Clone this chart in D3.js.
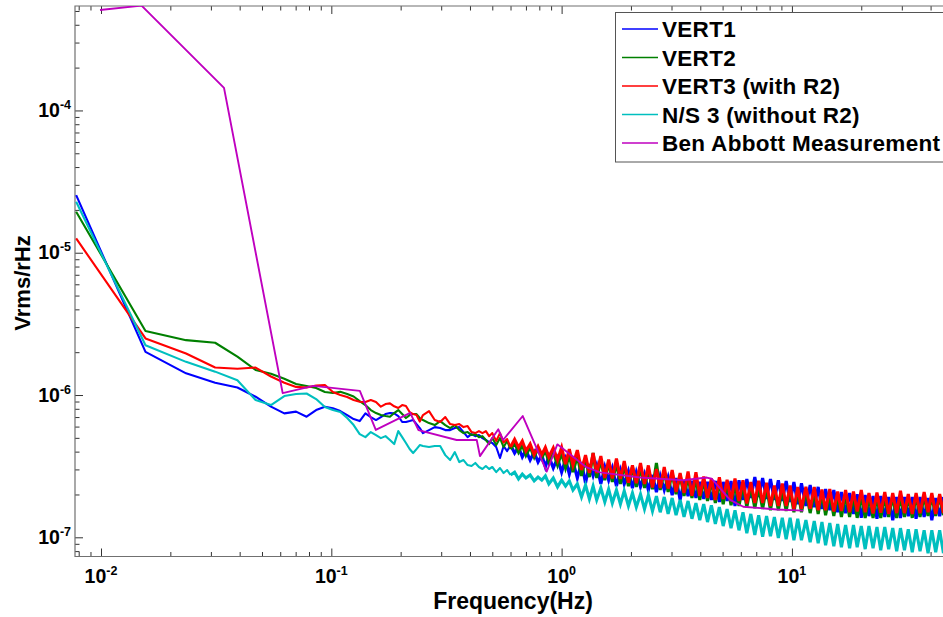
<!DOCTYPE html>
<html><head><meta charset="utf-8">
<script src="https://cdn.jsdelivr.net/npm/d3@7"></script>
<style>
body{margin:0;background:#fff;}
text{font-family:"Liberation Sans",Arial,Helvetica,sans-serif;font-weight:bold;fill:#000;}
</style>
</head><body>
<svg id="chart" width="943" height="617"></svg>
<script>
// Values in µVrms/√Hz (multiplied by UNIT when plotted)
const UNIT = 1e-6;
const seriesNames = ["VERT1", "VERT2", "VERT3 (with R2)", "N/S 3 (without R2)", "Ben Abbott Measurement"];
const seriesColors = ["#0000ff", "#008000", "#ff0000", "#00bfbf", "#bf00bf"];
const xTickValues = [0.01, 0.1, 1, 10];
const xTickExponents = ["-2", "-1", "0", "1"];
const yTickValues = [1e-7, 1e-6, 1e-5, 1e-4];
const yTickExponents = ["-7", "-6", "-5", "-4"];

const freqs = [
 0.0078, 0.0156, 0.0234, 0.0313, 0.0391, 0.0469, 0.0547, 0.0625, 0.0703, 0.0781, 0.0859, 0.0938,
 0.1016, 0.1094, 0.1172, 0.125, 0.1328, 0.1406, 0.1484, 0.1563, 0.1641, 0.1719, 0.1797, 0.1875,
 0.1953, 0.2031, 0.2109, 0.2188, 0.2266, 0.2344, 0.2422, 0.25, 0.2656, 0.2813, 0.2969, 0.3125,
 0.3281, 0.3438, 0.3594, 0.375, 0.3906, 0.4063, 0.4219, 0.4375, 0.4531, 0.4688, 0.4844,
 0.5, 0.52, 0.54, 0.56, 0.58, 0.6, 0.625, 0.65, 0.675, 0.7,
 0.73, 0.76, 0.79, 0.82, 0.85, 0.88, 0.92, 0.96, 1.0, 1.04,
 1.08, 1.12, 1.17, 1.22, 1.27, 1.32, 1.37, 1.42, 1.48, 1.54,
 1.6, 1.66, 1.73, 1.8, 1.87, 1.95, 2.03, 2.11, 2.2, 2.29,
 2.38, 2.48, 2.58, 2.68, 2.79, 2.9, 3.02, 3.14, 3.27, 3.4,
 3.54, 3.68, 3.83, 3.98, 4.14, 4.3, 4.47, 4.65, 4.84, 5.03,
 5.23, 5.44, 5.66, 5.89, 6.13, 6.37, 6.63, 6.9, 7.17, 7.46,
 7.76, 8.07, 8.39, 8.73, 9.08, 9.44, 9.82, 10.2, 10.6, 11.0,
 11.5, 12.0, 12.5, 13.0, 13.5, 14.0, 14.6, 15.2, 15.8, 16.4,
 17.1, 17.8, 18.5, 19.2, 20.0, 20.8, 21.6, 22.5, 23.4, 24.3,
 25.3, 26.3, 27.4, 28.5, 29.6, 30.8, 32.0, 33.3, 34.6, 36.0,
 37.5, 39.0, 40.5, 42.1, 43.8, 45.5
];

const vert1 = [
 25.4, 2.01, 1.42, 1.22, 1.13, 0.973, 0.828, 0.743, 0.764, 0.704, 0.784, 0.828,
 0.806, 0.771, 0.723, 0.678, 0.656, 0.743, 0.700, 0.667, 0.700, 0.735, 0.747, 0.743,
 0.712, 0.646, 0.646, 0.656, 0.667, 0.625, 0.586, 0.540, 0.567, 0.595, 0.586, 0.567,
 0.567, 0.586, 0.595, 0.549, 0.506, 0.531, 0.514, 0.523, 0.498, 0.483, 0.467,
 0.460, 0.431, 0.361, 0.438, 0.404, 0.445, 0.391, 0.431, 0.367, 0.410,
 0.349, 0.397, 0.338, 0.378, 0.312, 0.372, 0.307, 0.361, 0.287, 0.355,
 0.278, 0.343, 0.261, 0.338, 0.240, 0.327, 0.270, 0.322, 0.237, 0.312,
 0.252, 0.307, 0.229, 0.297, 0.237, 0.292, 0.222, 0.287, 0.226, 0.278,
 0.215, 0.274, 0.208, 0.270, 0.215, 0.265, 0.198, 0.261, 0.183, 0.252,
 0.195, 0.249, 0.189, 0.245, 0.186, 0.245, 0.183, 0.249, 0.177, 0.245,
 0.180, 0.249, 0.166, 0.252, 0.183, 0.257, 0.189, 0.265, 0.192, 0.261,
 0.186, 0.257, 0.183, 0.252, 0.180, 0.249, 0.177, 0.245, 0.171, 0.240,
 0.166, 0.233, 0.163, 0.226, 0.158, 0.218, 0.155, 0.215, 0.150, 0.208,
 0.148, 0.205, 0.146, 0.201, 0.137, 0.198, 0.141, 0.195, 0.135, 0.195,
 0.139, 0.192, 0.132, 0.192, 0.137, 0.192, 0.141, 0.192, 0.135, 0.192,
 0.139, 0.189, 0.132, 0.189, 0.141, 0.192
];

const vert2 = [
 19.4, 2.82, 2.43, 2.33, 1.86, 1.50, 1.41, 1.30, 1.195, 1.157, 1.12, 1.05,
 1.033, 1.055, 1.016, 0.976, 0.907, 0.850, 0.784, 0.747, 0.723, 0.712, 0.704, 0.747,
 0.784, 0.735, 0.689, 0.723, 0.735, 0.735, 0.689, 0.667, 0.635, 0.615, 0.656, 0.615,
 0.586, 0.615, 0.567, 0.540, 0.549, 0.523, 0.531, 0.506, 0.514, 0.483, 0.452,
 0.498, 0.445, 0.498, 0.431, 0.475, 0.417, 0.460, 0.397, 0.445, 0.378,
 0.431, 0.367, 0.424, 0.361, 0.410, 0.338, 0.397, 0.322, 0.391, 0.307,
 0.378, 0.287, 0.372, 0.270, 0.361, 0.265, 0.391, 0.261, 0.349, 0.252,
 0.338, 0.245, 0.333, 0.237, 0.322, 0.229, 0.312, 0.226, 0.307, 0.222,
 0.302, 0.218, 0.333, 0.215, 0.292, 0.208, 0.283, 0.201, 0.274, 0.195,
 0.265, 0.189, 0.257, 0.183, 0.252, 0.180, 0.249, 0.174, 0.245, 0.171,
 0.240, 0.168, 0.237, 0.166, 0.233, 0.163, 0.229, 0.160, 0.226, 0.158,
 0.226, 0.155, 0.222, 0.155, 0.218, 0.153, 0.218, 0.150, 0.215, 0.150,
 0.212, 0.148, 0.208, 0.146, 0.205, 0.143, 0.201, 0.141, 0.201, 0.139,
 0.198, 0.139, 0.195, 0.137, 0.195, 0.137, 0.192, 0.137, 0.192, 0.137,
 0.192, 0.139, 0.192, 0.137, 0.192, 0.139, 0.192, 0.137, 0.195, 0.139,
 0.195, 0.141, 0.195, 0.141, 0.195, 0.143
];

const vert3 = [
 12.6, 2.50, 1.96, 1.56, 1.53, 1.56, 1.35, 1.22, 1.14, 1.13, 1.165, 1.176,
 1.05, 1.0, 0.968, 0.922, 0.897, 0.893, 0.922, 0.893, 0.828, 0.864, 0.874, 0.833,
 0.810, 0.850, 0.837, 0.759, 0.735, 0.723, 0.650, 0.723, 0.771, 0.667, 0.646, 0.700,
 0.625, 0.615, 0.625, 0.595, 0.605, 0.549, 0.540, 0.558, 0.540, 0.558, 0.514,
 0.540, 0.475, 0.540, 0.463, 0.490, 0.431, 0.487, 0.428, 0.475, 0.404,
 0.452, 0.381, 0.434, 0.381, 0.428, 0.367, 0.424, 0.349, 0.428, 0.327,
 0.417, 0.322, 0.410, 0.297, 0.378, 0.283, 0.391, 0.283, 0.372, 0.261,
 0.352, 0.259, 0.358, 0.257, 0.343, 0.242, 0.320, 0.240, 0.333, 0.237,
 0.320, 0.224, 0.302, 0.222, 0.312, 0.220, 0.297, 0.208, 0.283, 0.205,
 0.290, 0.196, 0.287, 0.195, 0.267, 0.189, 0.259, 0.183, 0.264, 0.186,
 0.254, 0.180, 0.259, 0.180, 0.252, 0.173, 0.245, 0.174, 0.250, 0.174,
 0.242, 0.166, 0.231, 0.166, 0.239, 0.166, 0.231, 0.158, 0.226, 0.159,
 0.226, 0.159, 0.226, 0.155, 0.217, 0.155, 0.218, 0.152, 0.210, 0.153,
 0.215, 0.150, 0.210, 0.152, 0.215, 0.150, 0.205, 0.147, 0.206, 0.149,
 0.208, 0.146, 0.205, 0.148, 0.212, 0.148, 0.201, 0.146, 0.205, 0.148,
 0.208, 0.150, 0.205, 0.146, 0.201, 0.148
];

const ns3 = [
 22.8, 2.24, 1.71, 1.46, 1.27, 0.922, 0.850, 0.984, 1.016, 1.025, 0.937, 0.823,
 0.784, 0.759, 0.689, 0.615, 0.531, 0.506, 0.549, 0.523, 0.498, 0.514, 0.483, 0.452,
 0.558, 0.506, 0.460, 0.417, 0.391, 0.417, 0.445, 0.438, 0.431, 0.438, 0.438, 0.378,
 0.349, 0.397, 0.338, 0.349, 0.322, 0.317, 0.333, 0.312, 0.302, 0.317, 0.302,
 0.312, 0.287, 0.307, 0.283, 0.297, 0.274, 0.287, 0.257, 0.278, 0.261,
 0.274, 0.249, 0.265, 0.252, 0.270, 0.237, 0.261, 0.226, 0.252, 0.229,
 0.249, 0.215, 0.237, 0.192, 0.233, 0.186, 0.229, 0.183, 0.222, 0.177,
 0.218, 0.174, 0.215, 0.171, 0.212, 0.166, 0.205, 0.163, 0.201, 0.158,
 0.198, 0.153, 0.195, 0.150, 0.192, 0.146, 0.189, 0.143, 0.183, 0.139,
 0.180, 0.135, 0.174, 0.132, 0.171, 0.128, 0.168, 0.124, 0.163, 0.120,
 0.158, 0.116, 0.155, 0.112, 0.150, 0.107, 0.146, 0.104, 0.143, 0.101,
 0.141, 0.102, 0.139, 0.099, 0.137, 0.097, 0.137, 0.0955, 0.135, 0.0955,
 0.132, 0.0925, 0.130, 0.091, 0.128, 0.0881, 0.126, 0.0867, 0.124, 0.0853,
 0.122, 0.0839, 0.122, 0.0853, 0.120, 0.0826, 0.120, 0.0839, 0.118, 0.0812,
 0.118, 0.0826, 0.116, 0.0799, 0.116, 0.0812, 0.114, 0.0786, 0.114, 0.0799,
 0.112, 0.0773, 0.112, 0.0786, 0.112, 0.0773
];

const benFreqs = [0.0099, 0.0150, 0.0342, 0.0615, 0.0836, 0.133, 0.156, 0.220, 0.239, 0.350,
 0.428, 0.442, 0.531, 0.557, 0.678, 0.862, 0.958, 1.285, 1.47, 2.19, 3.37, 4.27, 4.48,
 5.39, 6.15, 8.59, 11.2];
const benValues = [508, 545, 144, 1.03, 1.16, 1.07, 0.568, 0.75, 0.567, 0.483,
 0.483, 0.372, 0.574, 0.483, 0.712, 0.29, 0.45, 0.31, 0.286, 0.263, 0.252, 0.263, 0.258,
 0.183, 0.164, 0.157, 0.154];

// ---------- drawing ----------
const svg = d3.select("#chart");
const L = 75, R = 945, T = 6, B = 556.5;
const x = d3.scaleLog().domain([0.00771, 46.2]).range([L, R]);
const y = d3.scaleLog().domain([7.33e-8, 5.42e-4]).range([B, T]);

svg.append("defs").append("clipPath").attr("id", "plotclip")
  .append("rect").attr("x", L).attr("y", T).attr("width", R - L).attr("height", B - T);

// minor tick values
const xMinor = [], yMinor = [];
for (let e = -3; e <= 1; e++) for (let m = 2; m <= 9; m++) {
  const v = m * Math.pow(10, e);
  if (v > x.domain()[0] && v < x.domain()[1]) xMinor.push(v);
}
for (let e = -8; e <= -4; e++) for (let m = 2; m <= 9; m++) {
  const v = m * Math.pow(10, e);
  if (v > y.domain()[0] && v < y.domain()[1]) yMinor.push(v);
}

const axisG = svg.append("g").attr("class", "axes");
function addAxis(gen, tr, vals, size) {
  const g = axisG.append("g").attr("transform", tr)
    .call(gen.tickValues(vals).tickSize(size).tickFormat(""));
  g.select(".domain").remove();
  g.selectAll(".tick line").attr("stroke", "#333").attr("stroke-width", 1);
}
addAxis(d3.axisBottom(x), `translate(0,${B})`, xTickValues, -8);
addAxis(d3.axisBottom(x), `translate(0,${B})`, xMinor, -4.5);
addAxis(d3.axisTop(x), `translate(0,${T})`, xTickValues, -8);
addAxis(d3.axisTop(x), `translate(0,${T})`, xMinor, -4.5);
addAxis(d3.axisLeft(y), `translate(${L},0)`, yTickValues, -8);
addAxis(d3.axisLeft(y), `translate(${L},0)`, yMinor, -4.5);

// box
axisG.append("path")
  .attr("d", `M${R},${T}H${L}V${B}H${R}`)
  .attr("fill", "none").attr("stroke", "#707070").attr("stroke-width", 1.2);

// tick labels
xTickValues.forEach((v, i) => {
  const t = svg.append("text").attr("x", x(v)).attr("y", 583)
    .attr("text-anchor", "middle").attr("font-size", 19.5);
  t.append("tspan").text("10");
  t.append("tspan").attr("dy", -8).attr("font-size", 12.5).text(xTickExponents[i]);
});
yTickValues.forEach((v, i) => {
  const t = svg.append("text").attr("x", 71).attr("y", y(v) + 6.5)
    .attr("text-anchor", "end").attr("font-size", 19.5);
  t.append("tspan").text("10");
  t.append("tspan").attr("dy", -8).attr("font-size", 12.5).text(yTickExponents[i]);
});

// axis titles
svg.append("text").attr("x", 513).attr("y", 609).attr("text-anchor", "middle")
  .attr("font-size", 23).text("Frequency(Hz)");
svg.append("text").attr("transform", "translate(30,283) rotate(-90)")
  .attr("text-anchor", "middle").attr("font-size", 22).text("Vrms/rHz");

// series: low-frequency part as a plain line, dense high-frequency noise part thicker
const line = d3.line().x(d => x(d[0])).y(d => y(d[1]));
const plot = svg.append("g").attr("clip-path", "url(#plotclip)");
const psd = [vert1, vert2, vert3, ns3].map(arr => freqs.map((f, i) => [f, arr[i] * UNIT]));
psd.forEach((data, i) => {
  plot.append("path").datum(data.filter(d => d[0] <= 0.62)).attr("d", line)
    .attr("fill", "none").attr("stroke", seriesColors[i])
    .attr("stroke-width", 2.1).attr("stroke-linejoin", "round");
  plot.append("path").datum(data.filter(d => d[0] >= 0.6)).attr("d", line)
    .attr("fill", "none").attr("stroke", seriesColors[i])
    .attr("stroke-width", 3.1).attr("stroke-linejoin", "miter");
});
const ben = benFreqs.map((f, i) => [f, benValues[i] * UNIT]);
plot.append("path").datum(ben).attr("d", line)
  .attr("fill", "none").attr("stroke", seriesColors[4])
  .attr("stroke-width", 1.9).attr("stroke-linejoin", "round");

// legend
const lg = svg.append("g");
lg.append("rect").attr("x", 615.5).attr("y", 12.5).attr("width", 340).attr("height", 149.5)
  .attr("fill", "#fff").attr("stroke", "#555").attr("stroke-width", 1);
seriesNames.forEach((name, i) => {
  const yy = 29 + 28.5 * i;
  lg.append("line").attr("x1", 622).attr("x2", 658).attr("y1", yy).attr("y2", yy)
    .attr("stroke", seriesColors[i]).attr("stroke-width", 1.5);
  lg.append("text").attr("x", 662).attr("y", yy + 8).attr("font-size", 22.5)
    .attr("letter-spacing", 0.3).text(name);
});
</script>
</body></html>
